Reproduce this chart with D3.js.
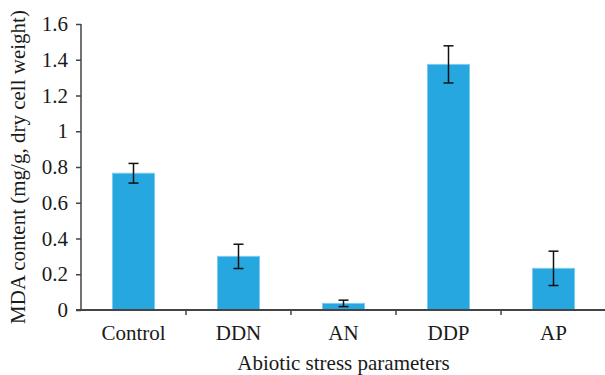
<!DOCTYPE html>
<html>
<head>
<meta charset="utf-8">
<script src="https://cdn.jsdelivr.net/npm/d3@7/dist/d3.min.js"></script>
<style>
  html, body { margin: 0; padding: 0; background: #fff; }
  svg { display: block; }
  text { font-family: "Liberation Serif", "Times New Roman", serif; fill: #1a1a1a; }
</style>
</head>
<body>
<svg id="chart" width="605" height="375"></svg>
<script>
// MDA content under each abiotic stress treatment (mean ± error)
const categories = ["Control", "DDN", "AN", "DDP", "AP"];
const values = [0.765, 0.300, 0.037, 1.374, 0.233];
const errors = [0.055, 0.068, 0.018, 0.104, 0.096];
const yTicks = [0, 0.2, 0.4, 0.6, 0.8, 1, 1.2, 1.4, 1.6];
const xTitle = "Abiotic stress parameters";
const yTitle = "MDA content (mg/g, dry cell weight)";

const svg = d3.select("#chart");
const plot = { left: 81, right: 606, top: 24, bottom: 310 };
const axisColor = "#444";
const fontSize = 21;

const x = d3.scaleBand().domain(categories).range([plot.left, plot.right]).padding(0);
const y = d3.scaleLinear().domain([0, 1.6]).range([plot.bottom, plot.top]);

const barW = x.bandwidth() * 0.4;

// bars
svg.append("g").selectAll("rect")
  .data(categories)
  .join("rect")
  .attr("x", (d) => x(d) + (x.bandwidth() - barW) / 2)
  .attr("y", (d, i) => y(values[i]))
  .attr("width", barW)
  .attr("height", (d, i) => y(0) - y(values[i]))
  .attr("fill", "#27a7df")
  .attr("stroke", "#7ccbee")
  .attr("stroke-width", 1);

// error bars
const eg = svg.append("g").attr("stroke", "#111").attr("stroke-width", 1.5);
categories.forEach((c, i) => {
  const cx = x(c) + x.bandwidth() / 2;
  const hi = y(values[i] + errors[i]);
  const lo = y(values[i] - errors[i]);
  eg.append("line").attr("x1", cx).attr("x2", cx).attr("y1", hi).attr("y2", lo);
  eg.append("line").attr("x1", cx - 5).attr("x2", cx + 5).attr("y1", hi).attr("y2", hi);
  eg.append("line").attr("x1", cx - 5).attr("x2", cx + 5).attr("y1", lo).attr("y2", lo);
});

// y axis
const yAxis = svg.append("g")
  .attr("transform", `translate(${plot.left},0)`)
  .call(d3.axisLeft(y).tickValues(yTicks).tickFormat(d3.format("~g")).tickSize(5).tickPadding(8));
yAxis.select(".domain").attr("stroke", axisColor).attr("stroke-width", 1.5)
  .attr("d", `M0,${plot.bottom}V${plot.top}`);
yAxis.selectAll(".tick line").attr("stroke", axisColor).attr("stroke-width", 1.5);
yAxis.selectAll(".tick text").attr("font-size", fontSize).attr("font-family", "Liberation Serif").attr("fill", "#1a1a1a");

// x axis: ticks sit at the boundaries between categories
const xAxis = svg.append("g").attr("transform", `translate(0,${plot.bottom})`);
xAxis.append("line").attr("x1", plot.left - 5).attr("x2", plot.right).attr("y1", 0).attr("y2", 0)
  .attr("stroke", axisColor).attr("stroke-width", 2);
categories.slice(1).forEach((c) => {
  xAxis.append("line").attr("x1", x(c)).attr("x2", x(c)).attr("y1", 0).attr("y2", 5)
    .attr("stroke", axisColor).attr("stroke-width", 1.5);
});
xAxis.selectAll("text.cat")
  .data(categories)
  .join("text")
  .attr("class", "cat")
  .attr("x", (d) => x(d) + x.bandwidth() / 2)
  .attr("y", 30)
  .attr("text-anchor", "middle")
  .attr("font-size", fontSize)
  .text((d) => d);

// axis titles
svg.append("text")
  .attr("x", (plot.left + plot.right) / 2)
  .attr("y", 370)
  .attr("text-anchor", "middle")
  .attr("font-size", fontSize)
  .text(xTitle);

svg.append("text")
  .attr("transform", `translate(25,167) rotate(-90)`)
  .attr("text-anchor", "middle")
  .attr("font-size", fontSize)
  .text(yTitle);
</script>
</body>
</html>
